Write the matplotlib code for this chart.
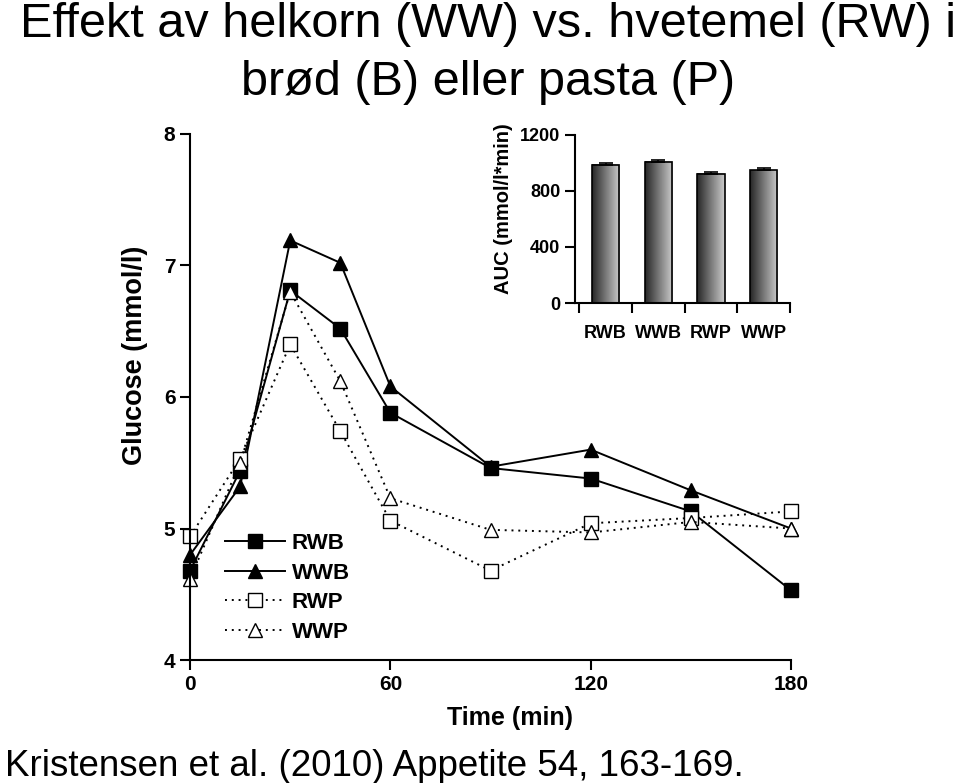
import numpy as np
import matplotlib.pyplot as plt

plt.rcParams["font.family"] = ["Liberation Sans", "DejaVu Sans"]

TIME = [0, 15, 30, 45, 60, 90, 120, 150, 180]
RWB = [4.68, 5.44, 6.81, 6.52, 5.88, 5.46, 5.38, 5.13, 4.53]
WWB = [4.80, 5.32, 7.19, 7.02, 6.08, 5.47, 5.60, 5.29, 5.00]
RWP = [4.94, 5.53, 6.40, 5.74, 5.06, 4.68, 5.04, 5.08, 5.13]
WWP = [4.62, 5.50, 6.80, 6.12, 5.23, 4.99, 4.97, 5.05, 5.00]

AUC_LABELS = ["RWB", "WWB", "RWP", "WWP"]
AUC_VALUES = [985, 1008, 922, 948]
AUC_ERR = [15, 15, 15, 15]

TITLE_1 = "Effekt av helkorn (WW) vs. hvetemel (RW) i"
TITLE_2 = "brød (B) eller pasta (P)"
SOURCE = "Kristensen et al. (2010) Appetite 54, 163-169."


def style_axes(ax, size):
    for side in ["top", "right"]:
        ax.spines[side].set_visible(False)
    for side in ["left", "bottom"]:
        ax.spines[side].set_linewidth(1.5)
    ax.tick_params(direction="out", width=1.5, length=7, labelsize=size)
    for lab in ax.get_xticklabels() + ax.get_yticklabels():
        lab.set_fontweight("bold")


fig = plt.figure(figsize=(9.6, 7.83), dpi=100)
fig.patch.set_facecolor("white")

ax = fig.add_axes([0.198, 0.157, 0.626, 0.672])
series = [
    ("RWB", RWB, "-", "s", "black"),
    ("WWB", WWB, "-", "^", "black"),
    ("RWP", RWP, ":", "s", "white"),
    ("WWP", WWP, ":", "^", "white"),
]
for name, vals, ls, mk, fc in series:
    ax.plot(TIME, vals, linestyle=ls, linewidth=1.4, color="black", marker=mk,
            markersize=10, markerfacecolor=fc, markeredgecolor="black",
            markeredgewidth=1.0, label=name, clip_on=False,
            dashes=(1, 2.5) if ls == ":" else (None, None))

ax.set_xlim(0, 180)
ax.set_ylim(4, 8)
ax.set_xticks([0, 60, 120, 180])
ax.set_yticks([4, 5, 6, 7, 8])
ax.set_xlabel("Time (min)", fontsize=18, fontweight="bold")
ax.set_ylabel("Glucose (mmol/l)", fontsize=19.5, fontweight="bold")
ax.xaxis.set_label_coords(0.532, -0.087)
ax.yaxis.set_label_coords(-0.07, 0.58)
style_axes(ax, 15)

leg = ax.legend(loc="upper left", bbox_to_anchor=(0.058, 0.241), frameon=False,
                borderpad=0, borderaxespad=0, handlelength=2.7, fontsize=16,
                labelspacing=0.38, handletextpad=0.3)
for t in leg.get_texts():
    t.set_fontweight("bold")

# inset AUC bar chart
ax2 = fig.add_axes([0.599, 0.613, 0.224, 0.215])
xpos = np.arange(len(AUC_LABELS)) + 0.5
bw = 0.52
grad = np.linspace(0.15, 0.8, 256).reshape(1, -1)
for xc, v in zip(xpos, AUC_VALUES):
    ax2.imshow(grad, cmap="gray", vmin=0, vmax=1, aspect="auto",
               extent=(xc - bw / 2, xc + bw / 2, 0, v), zorder=2)
ax2.bar(xpos, AUC_VALUES, width=bw, facecolor="none", edgecolor="black",
        linewidth=1.2, zorder=3)
ax2.errorbar(xpos, AUC_VALUES, yerr=[[0] * 4, AUC_ERR], fmt="none", ecolor="black",
             elinewidth=1.2, capsize=5, capthick=1.2, zorder=4)
ax2.set_xlim(-0.08, 4)
ax2.set_ylim(0, 1200)
ax2.set_yticks([0, 400, 800, 1200])
ax2.set_xticks([0, 1, 2, 3, 4])
ax2.set_xticks(xpos, minor=True)
ax2.set_xticklabels([])
ax2.set_xticklabels(AUC_LABELS, minor=True)
ax2.tick_params(axis="x", which="minor", length=0, pad=16)
ax2.set_ylabel("AUC (mmol/l*min)", fontsize=14.5, fontweight="bold")
ax2.yaxis.set_label_coords(-0.288, 0.56)
style_axes(ax2, 13)
for lab in ax2.get_xticklabels(minor=True):
    lab.set_fontweight("bold")
    lab.set_fontsize(13)

fig.text(0.508, 0.953, TITLE_1, ha="center", va="baseline", fontsize=35)
fig.text(0.508, 0.879, TITLE_2, ha="center", va="baseline", fontsize=35)
fig.text(0.005, 0.009, SOURCE, ha="left", va="baseline", fontsize=26.5)

fig.savefig("out.png", dpi=100, facecolor="white")
